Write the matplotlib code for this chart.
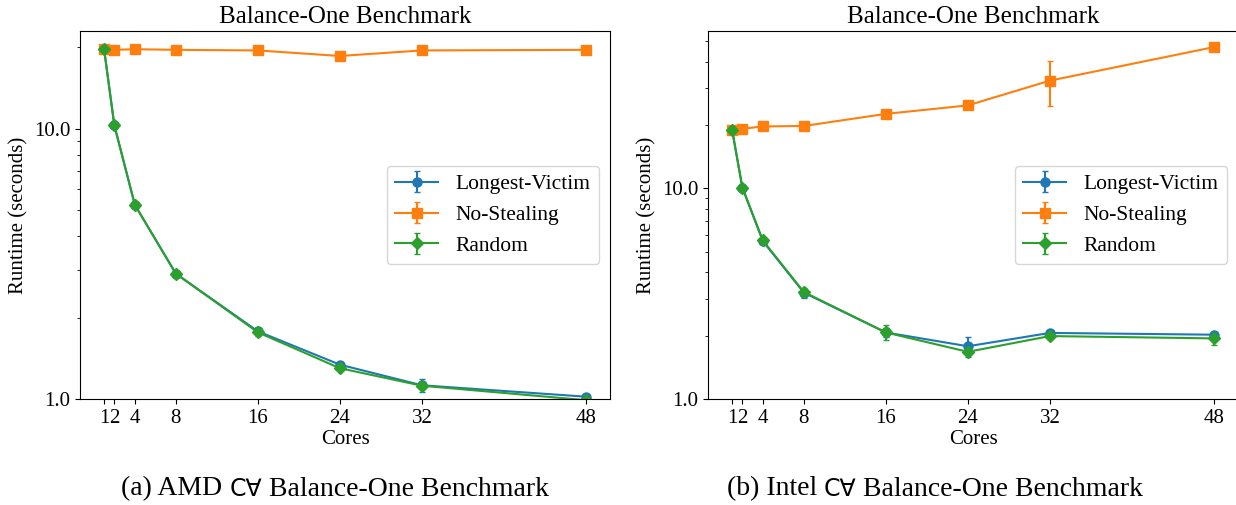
import matplotlib
matplotlib.use("Agg")
import matplotlib.pyplot as plt
from matplotlib.ticker import FixedLocator, FormatStrFormatter, NullFormatter

plt.rcParams['font.family'] = ['Liberation Serif', 'DejaVu Serif']
plt.rcParams['font.size'] = 15
plt.rcParams['axes.titlesize'] = 18

cores = [1, 2, 4, 8, 16, 24, 32, 48]
core_labels = ["1", "2", "4", "8", "16", "24", "32", "48"]
series_names = ["Longest-Victim", "No-Stealing", "Random"]
markers = ["o", "s", "D"]

# AMD
amd_longest = [19.7, 10.3, 5.23, 2.91, 1.78, 1.34, 1.124, 1.02]
amd_longest_err = [0.1, 0.05, 0.04, 0.03, 0.03, 0.02, 0.065, 0.01]
amd_nosteal = [19.7, 19.6, 19.7, 19.6, 19.5, 18.6, 19.5, 19.6]
amd_nosteal_err = [0.1, 0.1, 0.1, 0.1, 0.1, 0.1, 0.1, 0.1]
amd_random = [19.7, 10.3, 5.23, 2.91, 1.765, 1.30, 1.12, 0.99]
amd_random_err = [0.1, 0.05, 0.04, 0.05, 0.05, 0.02, 0.03, 0.01]

# Intel
intel_longest = [19.0, 10.1, 5.62, 3.2, 2.07, 1.78, 2.06, 2.02]
intel_longest_err = [0.2, 0.1, 0.1, 0.17, 0.1, 0.2, 0.06, 0.06]
intel_nosteal = [18.9, 19.2, 19.7, 19.8, 22.6, 24.8, 32.5, 46.9]
intel_nosteal_err = [0.2, 0.2, 0.2, 0.2, 0.2, 0.2, 7.8, 0.3]
intel_random = [19.0, 10.1, 5.66, 3.22, 2.07, 1.675, 1.99, 1.94]
intel_random_err = [0.2, 0.1, 0.1, 0.08, 0.17, 0.04, 0.06, 0.14]

W, H = 1236, 505
fig = plt.figure(figsize=(W / 100, H / 100), dpi=100)
ax1 = fig.add_axes([80 / W, 1 - 399 / H, (610 - 80) / W, (399 - 31) / H])
ax2 = fig.add_axes([708 / W, 1 - 399 / H, (1238 - 708) / W, (399 - 31) / H])

panels = [
    (ax1, [amd_longest, amd_nosteal, amd_random], [amd_longest_err, amd_nosteal_err, amd_random_err]),
    (ax2, [intel_longest, intel_nosteal, intel_random], [intel_longest_err, intel_nosteal_err, intel_random_err]),
]

for ax, vals, errs in panels:
    for i, (name, m) in enumerate(zip(series_names, markers)):
        ax.errorbar(cores, vals[i], yerr=errs[i], marker=m, markersize=6.5,
                    capsize=2.5, color=f"C{i}", label=name)
    ax.set_yscale("log")
    ax.set_ylim(bottom=1.0)
    ax.xaxis.set_major_locator(FixedLocator(cores))
    ax.set_xticklabels(core_labels)
    ax.yaxis.set_major_formatter(FormatStrFormatter('%.1f'))
    ax.yaxis.set_minor_formatter(NullFormatter())
    ax.set_xlabel("Cores", labelpad=2)
    ax.set_ylabel("Runtime (seconds)")
    ax.set_title("Balance-One Benchmark", pad=6)
    ax.legend(loc="center right", fontsize=15.5)

# sub-captions
fig.canvas.draw()
renderer = fig.canvas.get_renderer()

def caption(cx, cy, parts):
    texts = []
    for s, fam, size in parts:
        t = fig.text(0, cy, s, family=fam, fontsize=size, va="center", ha="left")
        texts.append(t)
    widths = [t.get_window_extent(renderer).width for t in texts]
    total = sum(widths)
    x = cx - total / 2
    for t, w in zip(texts, widths):
        t.set_x(x / W)
        x += w

cy = 1 - 489 / H
caption(335, cy, [("(a) AMD ", ['Liberation Serif'], 20),
                  ("C\u2200", ['DejaVu Sans'], 17),
                  (" Balance-One Benchmark", ['Liberation Serif'], 20)])
caption(935, cy, [("(b) Intel ", ['Liberation Serif'], 20),
                  ("C\u2200", ['DejaVu Sans'], 17),
                  (" Balance-One Benchmark", ['Liberation Serif'], 20)])

fig.savefig("out.png", dpi=100)
